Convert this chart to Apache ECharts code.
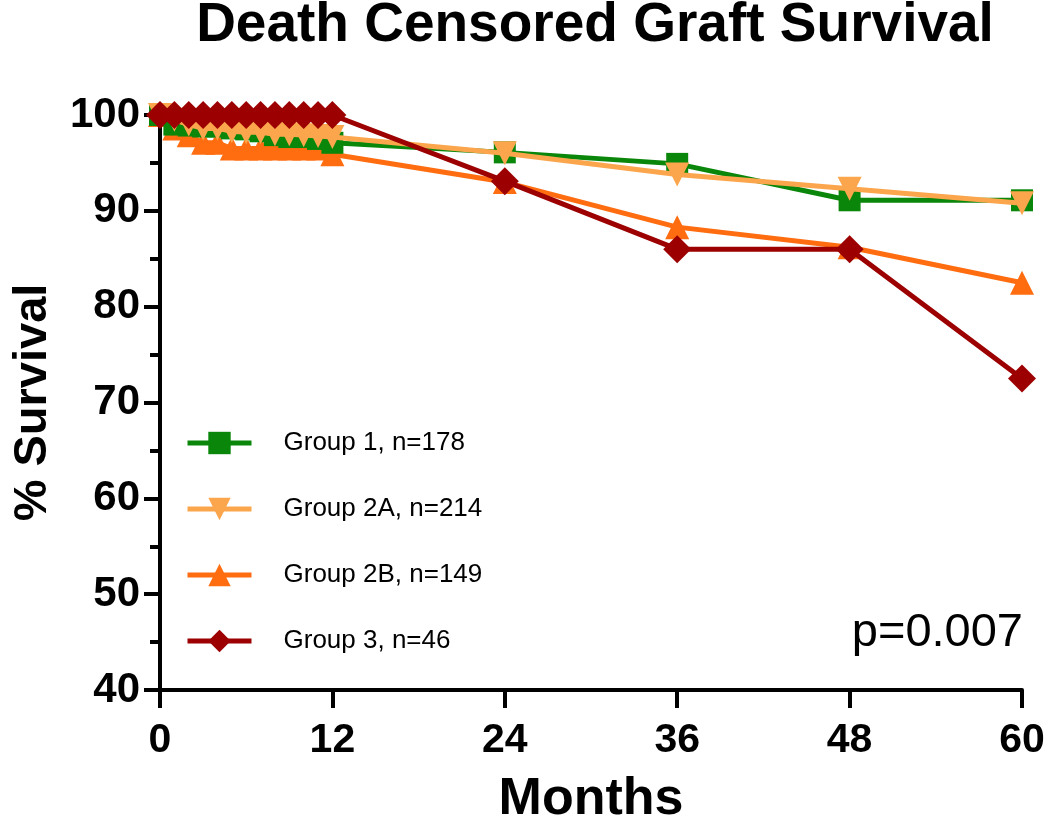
<!DOCTYPE html>
<html>
<head>
<meta charset="utf-8">
<script src="https://cdn.jsdelivr.net/npm/echarts@6/dist/echarts.min.js"></script>
<style>html,body{margin:0;padding:0;background:#fff}#c{width:1050px;height:817px}</style>
</head>
<body>
<div id="c"></div>
<script>
const months = [0,1,2,3,4,5,6,7,8,9,10,11,12,24,36,48,60];
const group1 = [100,99.0,98.9,98.8,98.8,98.6,98.5,98.3,97.9,97.7,97.7,97.5,97.1,96.1,94.9,91.1,91.1];
const group2A = [100,99.5,99.0,98.6,98.6,98.3,98.2,98.2,98.0,98.0,97.9,97.8,97.7,96.0,93.8,92.3,90.8];
const group2B = [100,98.6,97.9,97.1,97.1,96.5,96.5,96.5,96.5,96.5,96.5,96.5,95.9,93.0,88.3,86.2,82.5];
const group3 = [100,100,100,100,100,100,100,100,100,100,100,100,100,93.1,86.0,86.0,72.5];
const seriesNames = ['Group 1, n=178','Group 2A, n=214','Group 2B, n=149','Group 3, n=46'];
const titleText = 'Death Censored Graft Survival';
const pText = 'p=0.007';

const FONT = 'Liberation Sans, Arial, Helvetica, sans-serif';
const pairs = arr => months.map((m,i)=>[m,arr[i]]);
const chart = echarts.init(document.getElementById('c'));
const mk = (name, data, color, symbol, size, z, rot) => ({
  name, type:'line', data: pairs(data), symbol, symbolSize:size, symbolRotate:rot||0, z,
  lineStyle:{color, width:5}, itemStyle:{color}, clip:false, animation:false
});
chart.setOption({
  animation:false,
  grid:{left:160, right:28, top:115, bottom:127, outerBoundsMode:'none', containLabel:false},
  legend:{orient:'vertical', left:185, top:430, padding:0, itemGap:40, itemWidth:64, itemHeight:28,
    data:seriesNames, lineStyle:{width:5},
    textStyle:{fontFamily:FONT, fontSize:26, color:'#000', padding:[0,0,0,27]}},
  xAxis:{type:'value', min:0, max:60, interval:12,
    name:'Months', nameLocation:'middle', nameGap:84,
    nameTextStyle:{fontFamily:FONT, fontWeight:'bold', fontSize:52, color:'#000'},
    axisLine:{lineStyle:{color:'#000', width:4}},
    axisTick:{length:18, lineStyle:{color:'#000', width:4}},
    axisLabel:{fontFamily:FONT, fontWeight:'bold', fontSize:41, color:'#000', margin:30},
    splitLine:{show:false}},
  yAxis:{type:'value', min:40, max:100, interval:10,
    name:'% Survival', nameLocation:'middle', nameGap:103,
    nameTextStyle:{fontFamily:FONT, fontWeight:'bold', fontSize:47, color:'#000'},
    axisLine:{show:true, lineStyle:{color:'#000', width:4}},
    axisTick:{show:true, length:16, lineStyle:{color:'#000', width:4}},
    minorTick:{show:true, splitNumber:2, length:10, lineStyle:{color:'#000', width:4}},
    axisLabel:{fontFamily:FONT, fontWeight:'bold', fontSize:42, color:'#000', margin:20},
    splitLine:{show:false}, minorSplitLine:{show:false}},
  graphic:[
    {type:'text', x:595, y:26, z:10,
      style:{text:titleText, fontFamily:FONT, fontWeight:'bold', fontSize:55, fill:'#000', align:'center', verticalAlign:'middle'}},
    {type:'text', x:1023, y:633, z:10,
      style:{text:pText, fontFamily:FONT, fontSize:47, fill:'#000', align:'right', verticalAlign:'middle'}}
  ],
  series:[
    mk(seriesNames[0], group1, '#0a870a', 'rect', 22, 3),
    mk(seriesNames[1], group2A, '#fba64d', 'triangle', 24, 4, 180),
    mk(seriesNames[2], group2B, '#ff6d10', 'triangle', 24, 2),
    mk(seriesNames[3], group3, '#9c0000', 'diamond', 28, 5)
  ]
});
</script>
</body>
</html>
